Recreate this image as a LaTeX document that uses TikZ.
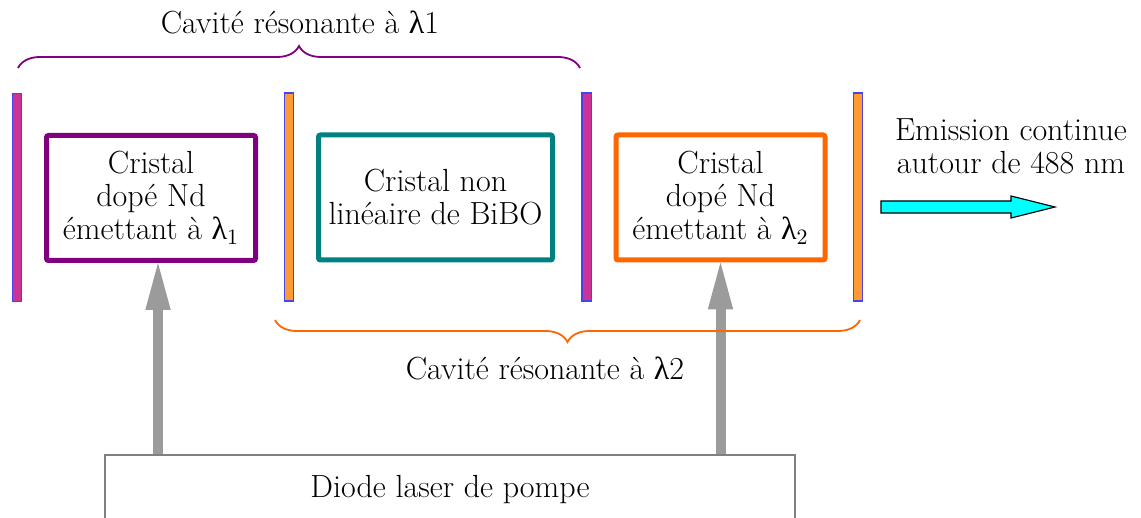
\documentclass[tikz,border=0pt]{standalone}
\usepackage{fontspec}
\newfontfamily\grk{Liberation Serif}
\usetikzlibrary{decorations.pathreplacing,arrows.meta,positioning}

\definecolor{mirmagenta}{RGB}{204,51,153}
\definecolor{mirorange}{RGB}{255,153,51}
\definecolor{mirborder}{RGB}{70,70,230}
\definecolor{cavpurple}{RGB}{128,0,128}
\definecolor{cavteal}{RGB}{0,128,128}
\definecolor{cavorange}{RGB}{255,102,0}
\definecolor{pumpgray}{RGB}{155,155,155}
\definecolor{beamcyan}{RGB}{0,255,255}

\newcommand{\lam}{{\grk λ}}

\begin{document}
\begin{tikzpicture}[x=0.5pt,y=-0.5pt,
        font=\fontsize{16}{16.5}\selectfont,
        mirror/.style={draw=mirborder, line width=0.6pt, minimum width=4.6pt,
            minimum height=104pt, inner sep=0pt},
        crystal/.style={line width=2.5pt, rounded corners=1pt, minimum width=104.5pt,
            minimum height=62.5pt, align=center, inner sep=0pt},
        pump/.style={-{Triangle[width=11pt,length=26pt]}, line width=5pt, draw=pumpgray},
        cavbrace/.style={decorate, decoration={brace, amplitude=11pt}, line width=0.9pt}]

    \clip (0,0) rectangle (1141,518);

    % Mirrors
    \node[mirror, fill=mirmagenta] (m1) at (17,197.5) {};
    \node[mirror, fill=mirorange] (m2) at (289,197) {};
    \node[mirror, fill=mirmagenta] (m3) at (586.5,197) {};
    \node[mirror, fill=mirorange] (m4) at (858,197) {};

    % Crystals
    \node[crystal, draw=cavpurple] (c1) at (151,198) {Cristal\\dopé Nd\\émettant à \lam$_1$};
    \node[crystal, draw=cavteal, minimum width=117pt] (c2) at (435.5,197.5) {Cristal non\\linéaire de BiBO};
    \node[crystal, draw=cavorange] (c3) at (720.5,197.5) {Cristal\\dopé Nd\\émettant à \lam$_2$};

    % Pump diode and pump beams
    \node[draw=gray, line width=0.6pt, minimum width=345pt, minimum height=35pt] (diode) at (450,490) {Diode laser de pompe};
    \draw[pump] ([xshift=3.5pt]c1.south |- diode.north) -- ([xshift=3.5pt,yshift=2.5pt]c1.south);
    \draw[pump] (c3.south |- diode.north) -- ([yshift=2.5pt]c3.south);

    % Cavities
    \draw[cavbrace, cavpurple] (18,68) -- (580,68);
    \node (cav1) at (300,22) {Cavité résonante à \lam1};
    \draw[cavbrace, cavorange] (860,320) -- (275,320);
    \node (cav2) at (545,368) {Cavité résonante à \lam2};

    % Output beam
    \coordinate (out) at (881,207);
    \draw[fill=beamcyan, line width=0.6pt] (out) ++(0,-6) -- ++(130,0) -- ++(0,-5) -- (1055,207)
        -- (1011,218) -- ++(0,-5) -- ++(-130,0) -- cycle;
    \node[align=center] (emis) at (1011,146) {Emission continue\\autour de 488 nm};
\end{tikzpicture}
\end{document}
